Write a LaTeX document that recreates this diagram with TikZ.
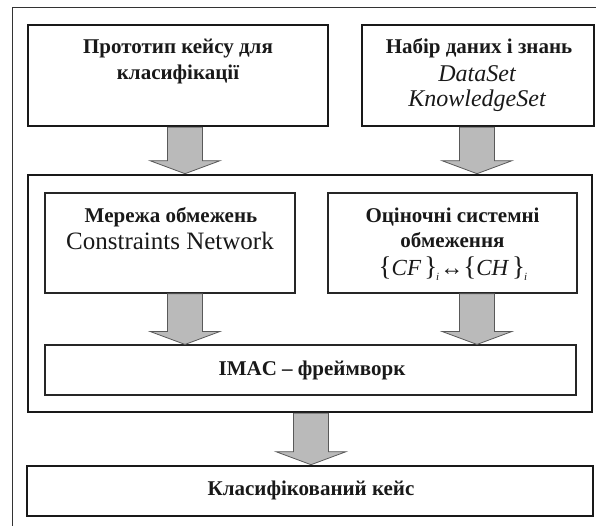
\documentclass[tikz,border=0pt]{standalone}
\usepackage{fontspec}
\setmainfont{Liberation Serif}
\usetikzlibrary{calc}

\tikzset{
  thickbox/.style={draw=black!90, line width=2.6pt, minimum width=#1},
  thinbox/.style={draw=black!85, line width=1.6pt},
  hairbox/.style={draw=black!85, line width=1.1pt},
  caption/.style={anchor=base, inner sep=0pt, text=black!90},
  hd/.style={caption, font=\fontsize{21}{26}\selectfont\bfseries},
  it/.style={caption, font=\fontsize{24}{28}\selectfont\itshape},
  rm/.style={caption, font=\fontsize{25}{28}\selectfont},
  fatarrow/.style={fill=black!27, draw=black!65, line width=0.8pt, line join=miter},
}

% broad grey block arrow between two named nodes, at a given x position
\newcommand\fatarrow[3]{%
  \path[fatarrow] let \p1=(#2.south), \p2=(#3.north) in
    ({#1-17.5pt},\y1) -- ({#1+17.5pt},\y1) -- ({#1+17.5pt},{\y2+13pt})
    -- ({#1+35pt},{\y2+13pt}) -- (#1,\y2) -- ({#1-35pt},{\y2+13pt})
    -- ({#1-17.5pt},{\y2+13pt}) -- cycle;}

\newcommand\brc[1]{{\fontsize{27}{27}\selectfont #1}}
\newcommand\idx{\raisebox{-5pt}{\fontsize{11}{11}\selectfont\textit{i}}}

\begin{document}
\begin{tikzpicture}[x=1pt,y=-1pt]
\useasboundingbox (0,0) rectangle (596,526);

% outer frame, running off the right and bottom edges
\draw[line width=1pt, draw=black!80] (12,540) -- (12,8) -- (610,8);

% input boxes
\node[thickbox=300pt, minimum height=101pt] (proto) at (178,75.5) {};
\node[thickbox=232pt, minimum height=101pt] (data) at (478,75.5) {};
\node[hd] (protoA) at (178,54) {Прототип кейсу для};
\node[hd] (protoB) at (178,80) {класифікації};
\node[hd] (dataA) at (479,54) {Набір даних і знань};
\node[it] (dataB) at (477,82) {DataSet};
\node[it] (dataC) at (477,107) {KnowledgeSet};

% main processing frame
\node[thickbox=564pt, minimum height=237pt] (frame) at (310,293.5) {};

\node[thinbox, minimum width=250pt, minimum height=100pt] (net) at (170,243) {};
\node[hd] (netA) at (171,223) {Мережа обмежень};
\node[rm] (netB) at (170,250) {Constraints Network};

\node[thinbox, minimum width=249pt, minimum height=100pt] (est) at (452.5,243) {};
\node[hd] (estA) at (452.5,223) {Оціночні системні};
\node[hd] (estB) at (452.5,248) {обмеження};
\node[caption, font=\fontsize{23}{26}\selectfont] (estC) at (453,276)
  {\brc{\{}\textit{CF}\kern3pt\brc{\}}\kern-1pt\idx\kern1pt↔\brc{\{}\textit{CH}\kern3pt\brc{\}}\kern-1pt\idx};

\node[hairbox, minimum width=531pt, minimum height=50pt] (imac) at (310.5,370) {};
\node[hd] (imact) at (312,375) {IMAC – фреймворк};

% result box
\node[thickbox=566pt, minimum height=50pt] (result) at (310,491) {};
\node[hd] (resultt) at (311,495) {Класифікований кейс};

% flow arrows
\fatarrow{185pt}{proto}{frame}
\fatarrow{477pt}{data}{frame}
\fatarrow{185pt}{net}{imac}
\fatarrow{477pt}{est}{imac}
\fatarrow{311pt}{frame}{result}
\end{tikzpicture}
\end{document}
